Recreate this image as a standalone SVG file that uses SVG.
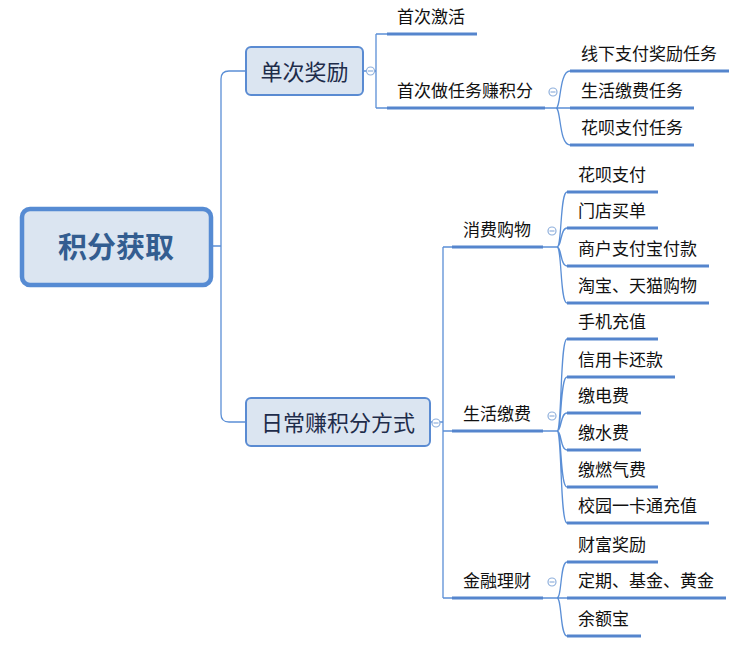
<svg xmlns="http://www.w3.org/2000/svg" width="749" height="645" viewBox="0 0 749 645">
<style>
.bg{fill:#ffffff}
.conn{fill:none;stroke:#5b8fd6;stroke-width:1.3}
.ul{stroke:#5585cd;stroke-width:3;stroke-linecap:butt}
.t{font-family:"Noto Sans CJK SC","Noto Sans",sans-serif;font-size:17px;fill:#111111}
.bt{font-family:"Noto Sans CJK SC","Noto Sans",sans-serif;font-size:22px;fill:#1e2c4a;text-anchor:middle}
.rt{font-family:"Noto Sans CJK SC","Noto Sans",sans-serif;font-size:29px;font-weight:bold;fill:#335d90;text-anchor:middle}
.box{fill:#dbe5f1;stroke:#5a8bd2;stroke-width:2}
.rbox{fill:#dbe5f1;stroke:#568bd3;stroke-width:4.5}
.col{fill:#ffffff;stroke:#8fb0dc;stroke-width:1.2}
.minus{stroke:#8fb0dc;stroke-width:1.2}
</style>
<rect class="bg" x="0" y="0" width="749" height="645"/>
<g id="connectors">
  <!-- root -->
  <path class="conn" d="M212,246 H221 M221,246 V79 Q221,71 229,71 H246 M221,246 V414 Q221,422 229,422 H246"/>
  <!-- 单次奖励 -->
  <path class="conn" d="M363,71 H376 M376,34 V108 M376,34 H387 M376,108 H387"/>
  <!-- 首次做任务赚积分 -->
  <path class="conn" d="M545,108 H570 M556,108 C561,108 559,71 570,71 M556,108 C561,108 559,145 570,145"/>
  <!-- 日常赚积分方式 -->
  <path class="conn" d="M430,422 H443 M443,247 V598 M443,247 H452 M443,431 H452 M443,598 H452"/>
  <!-- 消费购物 -->
  <path class="conn" d="M543,247 H557 M557,247 C562,247 560,192 567,192 M557,247 C562,247 560,228 567,228 M557,247 C562,247 560,266 567,266 M557,247 C562,247 560,303 567,303"/>
  <!-- 生活缴费 -->
  <path class="conn" d="M543,431 H557 M557,431 C562,431 560,339 567,339 M557,431 C562,431 560,377 567,377 M557,431 C562,431 560,413 567,413 M557,431 C562,431 560,450 567,450 M557,431 C562,431 560,487 567,487 M557,431 C562,431 560,523 567,523"/>
  <!-- 金融理财 -->
  <path class="conn" d="M543,598 H567 M557,598 C562,598 560,562 567,562 M557,598 C562,598 560,636 567,636"/>
</g>
<g id="root">
  <rect class="rbox" x="22" y="209" width="189" height="76" rx="8"/>
  <text class="rt" x="116" y="258">积分获取</text>
</g>
<g id="n-dancijiangli">
  <rect class="box" x="246" y="47" width="117" height="48" rx="5"/>
  <text class="bt" x="304.5" y="80">单次奖励</text>
  <circle class="col" cx="370.5" cy="71" r="4"/>
  <line class="minus" x1="368" y1="71" x2="373" y2="71"/>
</g>
<g id="n-richang">
  <rect class="box" x="246" y="398" width="184" height="48" rx="5"/>
  <text class="bt" x="338" y="431">日常赚积分方式</text>
  <circle class="col" cx="436" cy="423" r="4"/>
  <line class="minus" x1="433.5" y1="423" x2="438.5" y2="423"/>
</g>
<g id="n-shoucijihuo">
  <line class="ul" x1="387" y1="34" x2="477" y2="34"/>
  <text class="t" x="397" y="23">首次激活</text>
</g>
<g id="n-shoucizuorenwu">
  <line class="ul" x1="387" y1="108" x2="545" y2="108"/>
  <text class="t" x="397" y="97">首次做任务赚积分</text>
  <circle class="col" cx="553" cy="92" r="4"/>
  <line class="minus" x1="550.5" y1="92" x2="555.5" y2="92"/>
</g>
<g id="n-xianxia">
  <line class="ul" x1="570" y1="71" x2="729" y2="71"/>
  <text class="t" x="581" y="60">线下支付奖励任务</text>
</g>
<g id="n-shenghuojiaofeirenwu">
  <line class="ul" x1="570" y1="108" x2="694" y2="108"/>
  <text class="t" x="581" y="97">生活缴费任务</text>
</g>
<g id="n-huabeirenwu">
  <line class="ul" x1="570" y1="145" x2="694" y2="145"/>
  <text class="t" x="581" y="134">花呗支付任务</text>
</g>
<g id="n-xiaofeigouwu">
  <line class="ul" x1="452" y1="247" x2="543" y2="247"/>
  <text class="t" x="463" y="236">消费购物</text>
  <circle class="col" cx="552" cy="231" r="4"/>
  <line class="minus" x1="549.5" y1="231" x2="554.5" y2="231"/>
</g>
<g id="n-huabeizhifu">
  <line class="ul" x1="567" y1="192" x2="658" y2="192"/>
  <text class="t" x="578" y="181">花呗支付</text>
</g>
<g id="n-mendian">
  <line class="ul" x1="567" y1="228" x2="658" y2="228"/>
  <text class="t" x="578" y="217">门店买单</text>
</g>
<g id="n-shanghu">
  <line class="ul" x1="567" y1="266" x2="709" y2="266"/>
  <text class="t" x="578" y="255">商户支付宝付款</text>
</g>
<g id="n-taobao">
  <line class="ul" x1="567" y1="303" x2="709" y2="303"/>
  <text class="t" x="578" y="292">淘宝、天猫购物</text>
</g>
<g id="n-shenghuojiaofei">
  <line class="ul" x1="452" y1="431" x2="543" y2="431"/>
  <text class="t" x="463" y="420">生活缴费</text>
  <circle class="col" cx="552" cy="416" r="4"/>
  <line class="minus" x1="549.5" y1="416" x2="554.5" y2="416"/>
</g>
<g id="n-shouji">
  <line class="ul" x1="567" y1="339" x2="658" y2="339"/>
  <text class="t" x="578" y="328">手机充值</text>
</g>
<g id="n-xinyongka">
  <line class="ul" x1="567" y1="377" x2="675" y2="377"/>
  <text class="t" x="578" y="366">信用卡还款</text>
</g>
<g id="n-dianfei">
  <line class="ul" x1="567" y1="413" x2="641" y2="413"/>
  <text class="t" x="578" y="402">缴电费</text>
</g>
<g id="n-shuifei">
  <line class="ul" x1="567" y1="450" x2="641" y2="450"/>
  <text class="t" x="578" y="439">缴水费</text>
</g>
<g id="n-ranqi">
  <line class="ul" x1="567" y1="487" x2="658" y2="487"/>
  <text class="t" x="578" y="476">缴燃气费</text>
</g>
<g id="n-xiaoyuan">
  <line class="ul" x1="567" y1="523" x2="709" y2="523"/>
  <text class="t" x="578" y="512">校园一卡通充值</text>
</g>
<g id="n-jinrong">
  <line class="ul" x1="452" y1="598" x2="543" y2="598"/>
  <text class="t" x="463" y="587">金融理财</text>
  <circle class="col" cx="552" cy="582" r="4"/>
  <line class="minus" x1="549.5" y1="582" x2="554.5" y2="582"/>
</g>
<g id="n-caifu">
  <line class="ul" x1="567" y1="562" x2="658" y2="562"/>
  <text class="t" x="578" y="551">财富奖励</text>
</g>
<g id="n-dingqi">
  <line class="ul" x1="567" y1="598" x2="726" y2="598"/>
  <text class="t" x="578" y="587">定期、基金、黄金</text>
</g>
<g id="n-yuebao">
  <line class="ul" x1="567" y1="636" x2="641" y2="636"/>
  <text class="t" x="578" y="625">余额宝</text>
</g>
</svg>
